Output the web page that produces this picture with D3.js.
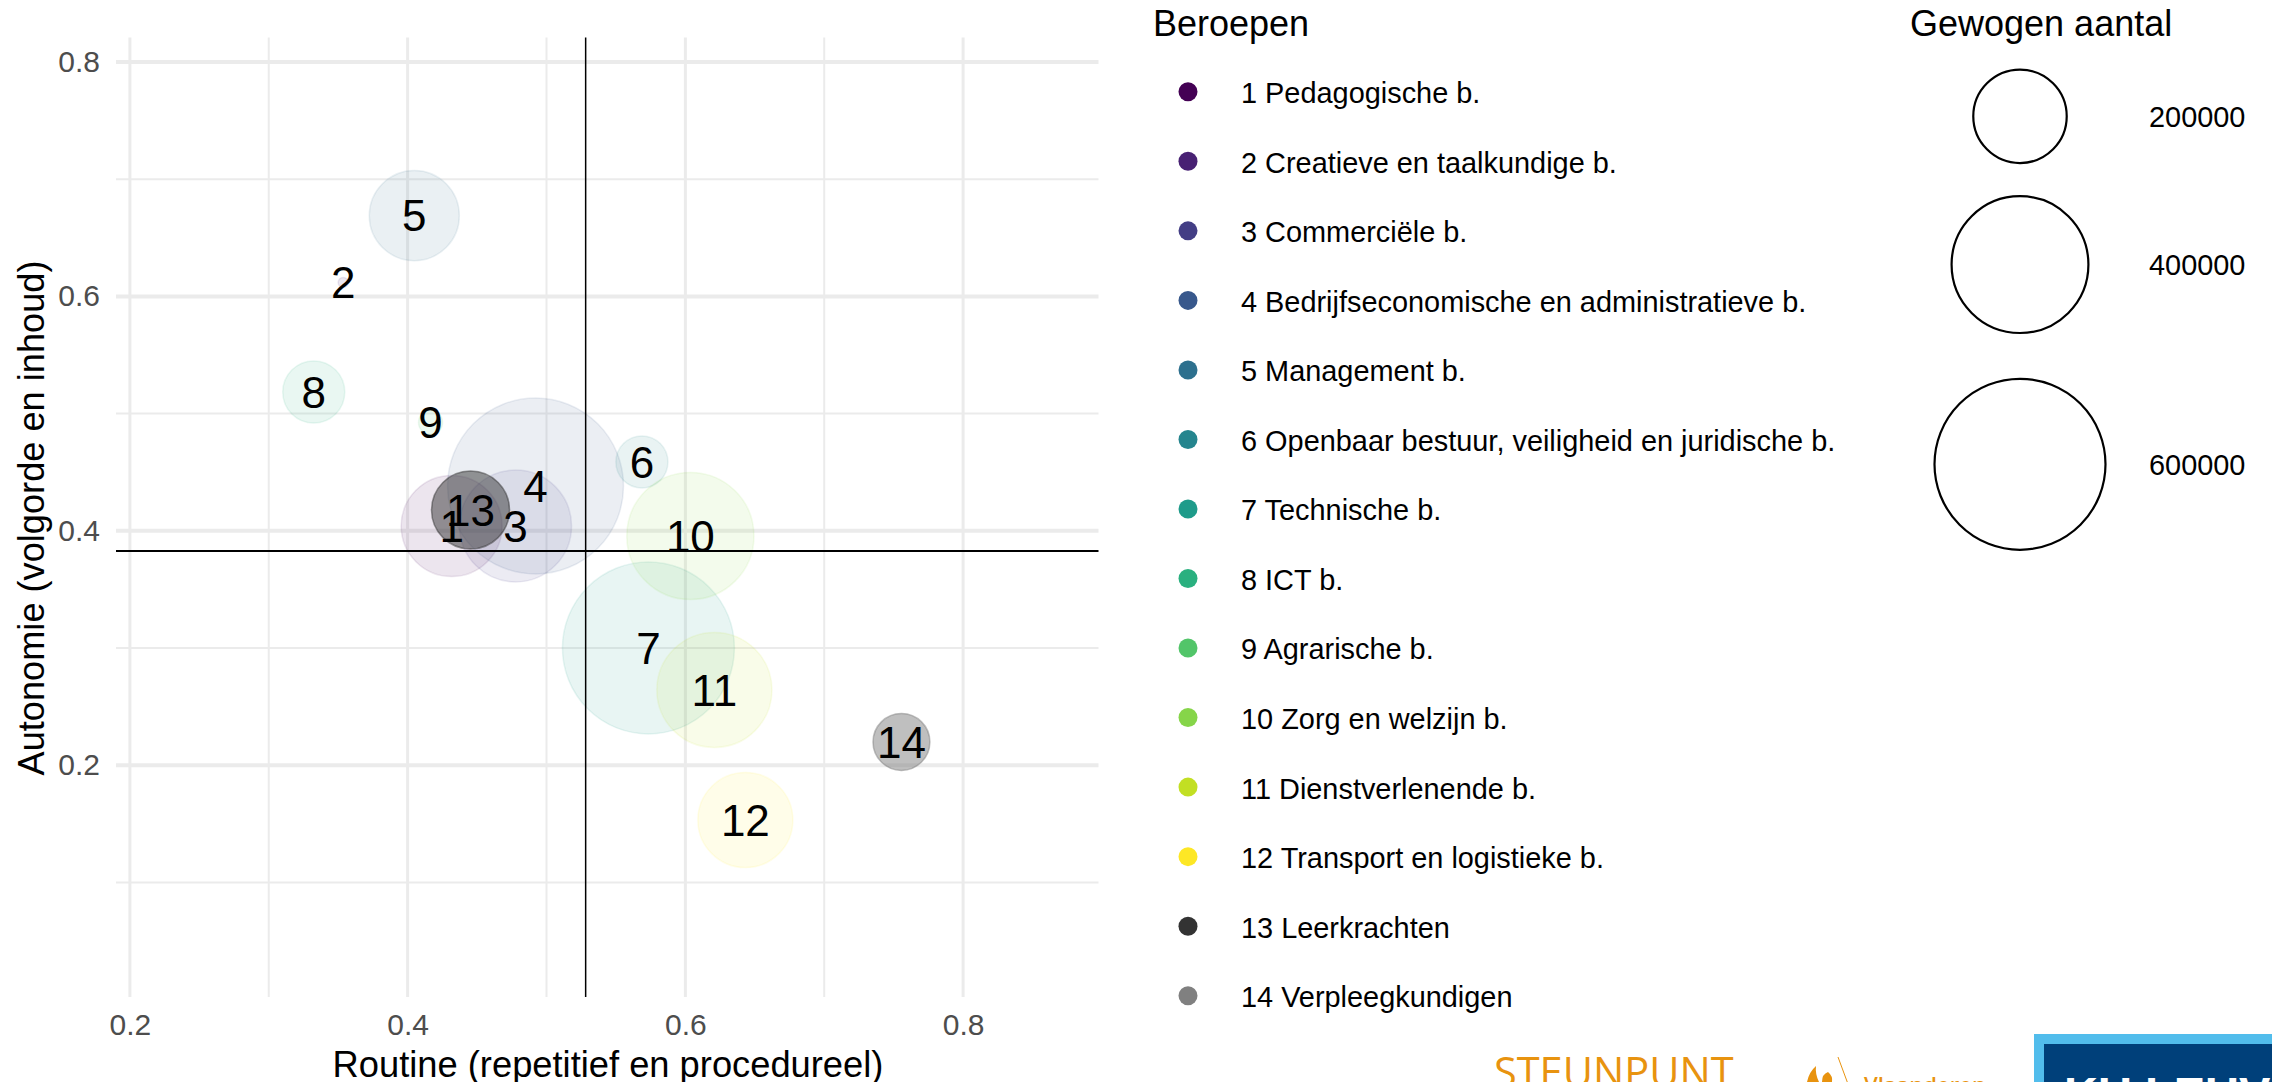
<!DOCTYPE html>
<html>
<head>
<meta charset="utf-8">
<script src="https://cdn.jsdelivr.net/npm/d3@7"></script>
<style>
html,body{margin:0;padding:0;background:#fff;overflow:hidden}
text{font-family:"Liberation Sans",Arial,sans-serif}
</style>
</head>
<body>
<svg id="chart" width="2272" height="1082"></svg>
<script>
// ---- data ----
const ids = [1,2,3,4,5,6,7,8,9,10,11,12,13,14];
const names = ["Pedagogische b.","Creatieve en taalkundige b.","Commerciële b.",
  "Bedrijfseconomische en administratieve b.","Management b.",
  "Openbaar bestuur, veiligheid en juridische b.","Technische b.","ICT b.",
  "Agrarische b.","Zorg en welzijn b.","Dienstverlenende b.",
  "Transport en logistieke b.","Leerkrachten","Verpleegkundigen"];
const routine  = [.4317,.3536,.4777,.4921,.4048,.5687,.5734,.3324,.4165,.6036,.6209,.6432,.4453,.7556];
const autonomie= [.4041,.6119,.4041,.4382,.6689,.4587,.3000,.5184,.4924,.3956,.2642,.1532,.4177,.2198];
const gewogen  = [230000,3500,278000,632000,187000,69000,606000,95000,16900,350000,292000,206000,144000,81000];
const meanRoutine = .5282, meanAutonomie = .3828;
const xTicks = [.2,.4,.6,.8], yTicks = [.2,.4,.6,.8];
const xMinor = [.3,.5,.7], yMinor = [.1,.3,.5,.7];
const sizeBreaks = [200000,400000,600000];
const extraColours = ["#333333","#808080"];

// ---- layout ----
const P = {l:116,r:1098.5,t:37.5,b:997};
const x = d3.scaleLinear().domain([.19,.8975]).range([P.l,P.r]);
const y = d3.scaleLinear().domain([.0022,.8209]).range([P.b,P.t]);
const size = d3.scalePow().exponent(.55).domain([0,600000]).range([0,85.5]);
const viridis = d3.scaleSequential(d3.interpolateViridis).domain([1,12]);
const colour = i => i<12 ? viridis(i+1) : extraColours[i-12];
const alpha = i => i<12 ? .1 : .5;
const svg = d3.select("#chart");

// grid
const grid = svg.append("g").attr("stroke","#ebebeb").attr("fill","none");
grid.selectAll(".xm").data(xMinor).join("line").attr("x1",x).attr("x2",x).attr("y1",P.t).attr("y2",P.b).attr("stroke-width",2);
grid.selectAll(".ym").data(yMinor).join("line").attr("y1",y).attr("y2",y).attr("x1",P.l).attr("x2",P.r).attr("stroke-width",2);
grid.selectAll(".xM").data(xTicks).join("line").attr("x1",x).attr("x2",x).attr("y1",P.t).attr("y2",P.b).attr("stroke-width",3);
grid.selectAll(".yM").data(yTicks).join("line").attr("y1",y).attr("y2",y).attr("x1",P.l).attr("x2",P.r).attr("stroke-width",4);

// axes
const xa = svg.append("g").attr("transform",`translate(0,${P.b})`)
  .call(d3.axisBottom(x).tickValues(xTicks).tickSize(0).tickPadding(17).tickFormat(d3.format(".1f")));
const ya = svg.append("g").attr("transform",`translate(${P.l},0)`)
  .call(d3.axisLeft(y).tickValues(yTicks).tickSize(0).tickPadding(16).tickFormat(d3.format(".1f")));
[xa,ya].forEach(a=>{a.select(".domain").remove();
  a.selectAll("text").attr("fill","#4d4d4d").style("font-size","30px").style("font-family",'"Liberation Sans"');});

svg.append("text").attr("x",608).attr("y",1077).attr("text-anchor","middle").attr("font-size",36.3)
  .attr("fill","#000").text("Routine (repetitief en procedureel)");
svg.append("text").attr("transform","translate(44,518) rotate(-90)").attr("text-anchor","middle").attr("font-size",36.2)
  .attr("fill","#000").text("Autonomie (volgorde en inhoud)");

// bubbles
svg.append("g").selectAll("circle").data(ids).join("circle")
  .attr("cx",(d,i)=>x(routine[i])).attr("cy",(d,i)=>y(autonomie[i])).attr("r",(d,i)=>size(gewogen[i]))
  .attr("fill",(d,i)=>colour(i)).attr("stroke",(d,i)=>colour(i)).attr("stroke-width",1.5)
  .attr("fill-opacity",(d,i)=>alpha(i)).attr("stroke-opacity",(d,i)=>alpha(i));

// mean lines
svg.append("line").attr("x1",P.l).attr("x2",P.r).attr("y1",y(meanAutonomie)).attr("y2",y(meanAutonomie)).attr("stroke","#000").attr("stroke-width",2);
svg.append("line").attr("x1",x(meanRoutine)).attr("x2",x(meanRoutine)).attr("y1",P.t).attr("y2",P.b).attr("stroke","#000").attr("stroke-width",1.5);

// point labels
svg.append("g").selectAll("text").data(ids).join("text")
  .attr("x",(d,i)=>x(routine[i])).attr("y",(d,i)=>y(autonomie[i])).attr("dy","0.36em")
  .attr("text-anchor","middle").attr("font-size",44).attr("fill","#000").text(d=>d);

// colour legend
svg.append("text").attr("x",1153).attr("y",36).attr("font-size",36).attr("fill","#000").text("Beroepen");
const row = d3.scalePoint().domain(ids).range([91.8,995.7]);
const lg = svg.append("g").selectAll("g").data(ids).join("g").attr("transform",d=>`translate(0,${row(d)})`);
lg.append("circle").attr("cx",1188).attr("r",9.5).attr("fill",(d,i)=>colour(i));
lg.append("text").attr("x",1241).attr("y",1).attr("dy","0.36em").attr("font-size",28.9).attr("fill","#000").text((d,i)=>d+" "+names[i]);

// size legend
svg.append("text").attr("x",1910).attr("y",36).attr("font-size",36).attr("fill","#000").text("Gewogen aantal");
const sizeY = d3.scaleOrdinal().domain(sizeBreaks).range([116.3,264.6,464.3]);
const sl = svg.append("g").selectAll("g").data(sizeBreaks).join("g").attr("transform",d=>`translate(0,${sizeY(d)})`);
sl.append("circle").attr("cx",2020).attr("r",d=>size(d)).attr("fill","none").attr("stroke","#000").attr("stroke-width",2.2);
sl.append("text").attr("x",2149).attr("dy","0.36em").attr("font-size",28.9).attr("fill","#000").text(d=>d);

// logos, cut off by the bottom of the picture
const orange = "#E8930F";
svg.append("text").attr("x",1494).attr("y",1087).attr("font-size",41.5).attr("fill",orange)
  .style("font-family",'"Open Sans"').style("font-weight",400).text("STEUNPUNT");
svg.append("text").attr("x",1864).attr("y",1093).attr("font-size",22).attr("fill",orange)
  .style("font-family",'"Open Sans"').style("font-weight",600).text("Vlaanderen");
svg.append("line").attr("x1",1838).attr("y1",1057).attr("x2",1848).attr("y2",1084).attr("stroke",orange).attr("stroke-width",1);
svg.append("path").attr("d","M1807 1082 Q1809 1072 1816 1066 Q1815 1074 1819 1082Z M1822 1082 Q1822 1074 1828 1072 Q1833 1076 1832 1082Z").attr("fill",orange);
svg.append("rect").attr("x",2034).attr("y",1034).attr("width",238).attr("height",48).attr("fill","#52BDEC");
svg.append("rect").attr("x",2044).attr("y",1044).attr("width",228).attr("height",38).attr("fill","#00407A");
svg.append("text").attr("x",2064).attr("y",1110).attr("font-size",47).attr("font-weight",700).attr("fill","#fff").text("KU LEUVEN");
</script>
</body>
</html>
